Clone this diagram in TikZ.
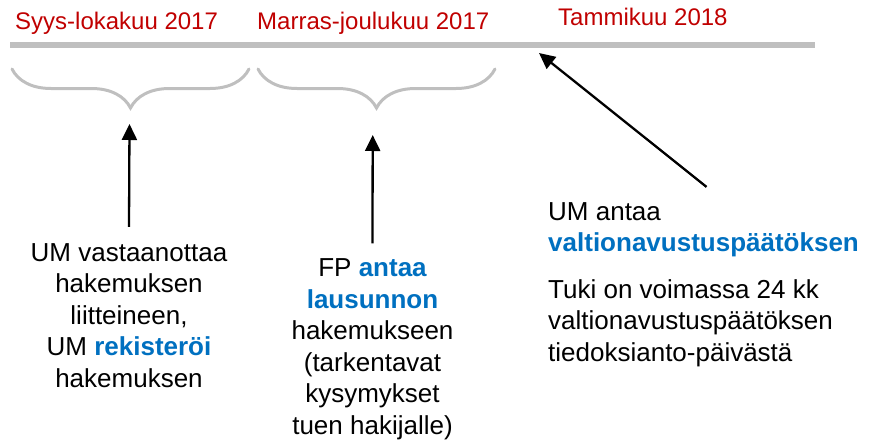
\documentclass[tikz,border=0pt]{standalone}
\usepackage{fontspec}
\setmainfont{Liberation Sans}
\usetikzlibrary{arrows.meta,decorations.pathreplacing}
\definecolor{kkred}{RGB}{192,0,0}
\definecolor{kkblue}{RGB}{0,112,192}
\definecolor{kkgray}{RGB}{191,191,191}
\newcommand{\hl}[1]{\textcolor{kkblue}{\bfseries #1}}

\begin{document}
\begin{tikzpicture}[x=1pt,y=-1pt,
  month/.style={anchor=base west,inner sep=0,text=kkred,font=\fontsize{24}{29}\selectfont},
  body/.style={anchor=base,inner sep=0,font=\fontsize{26}{31.5}\selectfont},
  period/.style={draw=kkgray,line width=3pt,line cap=round,decorate,
    decoration={brace,mirror,amplitude=39pt}},
  pointer/.style={-{Triangle[length=16pt,width=15pt]},line width=2.3pt}]
\useasboundingbox (0,0) rectangle (869,444);
% aikajana
\draw[kkgray,line width=6pt] (10,45) -- (815,45);
\node[month] (syys) at (15,29.5) {Syys-lokakuu 2017};
\node[month] (marras) at (257,29.5) {Marras-joulukuu 2017};
\node[month] (tammi) at (558,26) {Tammikuu 2018};
% jaksot
\draw[period] (12,69) -- (249,69);
\draw[period] (258,69) -- (495,69);
\coordinate (sepok) at (129.5,124);
\coordinate (marjou) at (372.7,135);
\coordinate (tam) at (539,53);
% tekstit (base = viimeisen rivin peruslinja)
\node[body,align=center] (um1) at (129,387)
  {UM vastaanottaa\\hakemuksen\\liitteineen,\\UM \hl{rekisteröi}\\hakemuksen};
\node[body,align=center] (fp) at (372.5,434)
  {FP \hl{antaa}\\\hl{lausunnon}\\hakemukseen\\(tarkentavat\\kysymykset\\tuen hakijalle)};
\node[body,anchor=base west,align=left] (um2) at (548,361)
  {UM antaa\\\hl{valtionavustuspäätöksen}\\[15pt]Tuki on voimassa 24 kk\\valtionavustuspäätöksen\\tiedoksianto-päivästä};
\draw[pointer] ([yshift=16pt]um1.north) -- (sepok);
\draw[pointer] ([yshift=15pt]fp.north) -- (marjou);
\draw[pointer] ([xshift=3pt,yshift=15pt]um2.north) -- (tam);
\end{tikzpicture}
\end{document}
